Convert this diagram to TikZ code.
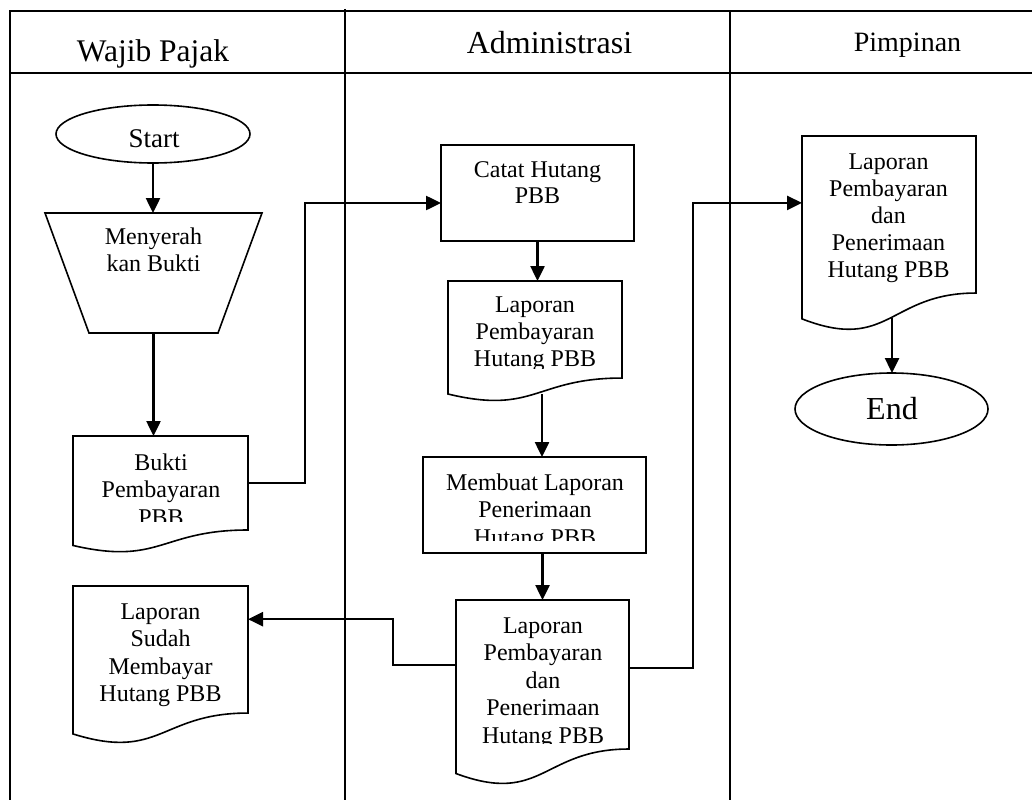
\documentclass[tikz,border=0pt]{standalone}
\usepackage{fontspec}
\setmainfont{Liberation Serif}
\usetikzlibrary{shapes.geometric,arrows.meta,calc}

\tikzset{
  lanerule/.style={line width=1.5pt},
  shapeline/.style={line width=1.6pt},
  flow/.style={line width=2.5pt, -{Triangle[length=15pt,width=14pt]}},
  bodytext/.style={font=\fontsize{24}{27.5}\selectfont, align=center, inner sep=0pt, anchor=north},
  headtext/.style={inner sep=0pt, anchor=base},
  blank/.style={rectangle, inner sep=0pt, outer sep=0pt},
}

% document symbol: flat top, wavy bottom
\newcommand\docoutline[1]{%
  \draw[shapeline] (#1.north west) -- (#1.north east)
    -- ($(#1.north east)!0.802!(#1.south east)$)
    .. controls ($(#1.north)!0.802!(#1.south)$) and ($(#1.north)!1.107!(#1.south)$)
    .. ($(#1.north west)!0.934!(#1.south west)$) -- cycle;}

\begin{document}
\begin{tikzpicture}[x=1pt,y=-1pt]
\useasboundingbox (0,0) rectangle (1032,800);

% swimlane frame
\draw[lanerule] (9,11) -- (1032,11);
\draw[lanerule] (10,11) -- (10,800);
\draw[lanerule] (10,73) -- (1032,73);
\draw[lanerule] (345,9) -- (345,800);
\draw[lanerule] (730,11) -- (730,800);

\node[headtext, font=\fontsize{31.5}{36}\selectfont] (h1) at (153,62) {Wajib Pajak};
\node[headtext, font=\fontsize{32}{36}\selectfont] (h2) at (549.5,54) {Administrasi};
\node[headtext, font=\fontsize{28}{32}\selectfont] (h3) at (907.5,52) {Pimpinan};

% shapes
\node[blank, ellipse, draw, shapeline, minimum width=194pt, minimum height=58pt] (start) at (153,134) {};
\node[headtext, font=\fontsize{27}{30}\selectfont] (start-t) at (154,147) {Start};

\node[blank, minimum width=217pt, minimum height=120pt] (trap) at (153.5,273) {};
\draw[shapeline] (trap.north west) -- (trap.north east) -- ($(trap.south east)+(-44,0)$)
  -- ($(trap.south west)+(44,0)$) -- cycle;
\node[bodytext] (trap-t) at (153.5,224.75) {\strut Menyerah\\kan Bukti};

\node[blank, minimum width=175pt, minimum height=117.2pt] (bukti) at (160.5,494.6) {};
\docoutline{bukti}
\begin{scope}
  \clip (0,0) rectangle (1032,521);
  \node[bodytext] (bukti-t) at (161,450.75) {\strut Bukti\\Pembayaran\\PBB};
\end{scope}

\node[blank, minimum width=175pt, minimum height=158.4pt] (sudah) at (160.5,665.2) {};
\docoutline{sudah}
\node[bodytext] (sudah-t) at (160.5,600) {\strut Laporan\\Sudah\\Membayar\\Hutang PBB};

\node[blank, draw, shapeline, minimum width=193pt, minimum height=96pt] (catat) at (537.5,193) {};
\node[bodytext, font=\fontsize{24}{26.5}\selectfont] (catat-t) at (537.5,158.25) {\strut Catat Hutang\\PBB};

\node[blank, minimum width=174pt, minimum height=121pt] (lap1) at (535,341.5) {};
\docoutline{lap1}
\begin{scope}
  \clip (0,0) rectangle (1032,368);
  \node[bodytext, font=\fontsize{24}{27}\selectfont] (lap1-t) at (535,293.75) {\strut Laporan\\Pembayaran\\Hutang PBB};
\end{scope}

\node[blank, draw, shapeline, minimum width=223pt, minimum height=96pt] (membuat) at (534.5,505) {};
\begin{scope}
  \clip (0,0) rectangle (1032,540.5);
  \node[bodytext] (membuat-t) at (535,470.75) {\strut Membuat Laporan\\Penerimaan\\Hutang PBB};
\end{scope}

\node[blank, minimum width=173pt, minimum height=185.8pt] (fin) at (542.5,692.9) {};
\docoutline{fin}
\begin{scope}
  \clip (0,0) rectangle (1032,743);
  \node[bodytext] (fin-t) at (543,613.75) {\strut Laporan\\Pembayaran\\dan\\Penerimaan\\Hutang PBB};
\end{scope}

\node[blank, minimum width=174pt, minimum height=195.8pt] (pim) at (889,233.9) {};
\docoutline{pim}
\node[bodytext, font=\fontsize{24}{27}\selectfont] (pim-t) at (888.5,150.75) {\strut Laporan\\Pembayaran\\dan\\Penerimaan\\Hutang PBB};

\node[blank, ellipse, draw, shapeline, minimum width=193pt, minimum height=72pt] (end) at (891.5,409) {};
\node[headtext, font=\fontsize{32}{36}\selectfont] (end-t) at (892,419) {End};

% connectors
\draw[flow] (start.south) -- (start.south |- trap.north);
\draw[flow] (trap.south) -- (trap.south |- bukti.north);
\draw[flow] ([yshift=11.6pt]bukti.east) -- ++(57,0) |- ([yshift=-10pt]catat.west);
\draw[flow] (catat.south) -- (catat.south |- lap1.north);
\draw[flow] ([xshift=7pt,yshift=8pt]lap1.south) -- ([xshift=7.5pt]membuat.north);
\draw[flow] (fin.north |- membuat.south) -- (fin.north);
\draw[flow] ([yshift=28pt]fin.west) -- ++(-63,0) |- ([yshift=46pt]sudah.east);
\draw[flow] ([yshift=25pt]fin.east) -- ++(64,0) |- ([yshift=31pt]pim.west);
\draw[flow] ([xshift=3pt,yshift=14pt]pim.south) -- ([xshift=0.5pt]end.north);
\end{tikzpicture}
\end{document}
